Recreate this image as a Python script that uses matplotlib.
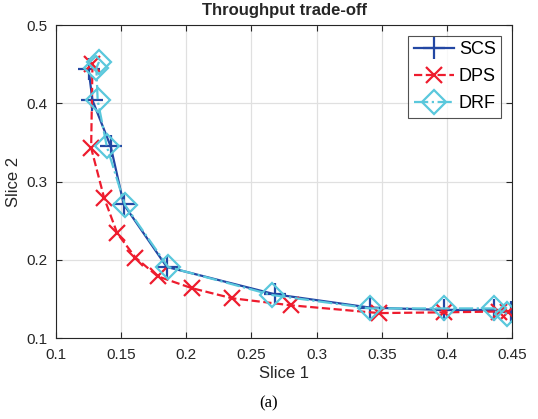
import matplotlib
matplotlib.use("Agg")
import matplotlib.pyplot as plt

scs_x = [0.125, 0.128, 0.142, 0.152, 0.185, 0.268, 0.341, 0.398, 0.436, 0.449]
scs_y = [0.444, 0.404, 0.345, 0.271, 0.191, 0.156, 0.139, 0.136, 0.136, 0.133]
dps_x = [0.128, 0.127, 0.137, 0.147, 0.161, 0.178, 0.204, 0.235, 0.280, 0.348, 0.398, 0.440, 0.447]
dps_y = [0.450, 0.343, 0.279, 0.234, 0.203, 0.179, 0.164, 0.151, 0.142, 0.132, 0.133, 0.134, 0.134]
drf_x = [0.133, 0.131, 0.132, 0.139, 0.153, 0.186, 0.266, 0.341, 0.398, 0.436, 0.446]
drf_y = [0.453, 0.445, 0.404, 0.345, 0.270, 0.191, 0.155, 0.138, 0.138, 0.138, 0.131]

xticks = [0.1, 0.15, 0.2, 0.25, 0.3, 0.35, 0.4, 0.45]
yticks = [0.1, 0.2, 0.3, 0.4, 0.5]

plt.rcParams['font.family'] = ['Liberation Sans', 'DejaVu Sans']

fig = plt.figure(figsize=(5.38, 4.19), dpi=100)
ax = fig.add_axes([0.104, 0.193, 0.848, 0.747])

ax.plot(scs_x, scs_y, '-', color='#2347a3', lw=1.6, marker='+', ms=16, mew=1.6, label='SCS')
ax.plot(dps_x, dps_y, '--', color='#ee1c2e', lw=1.6, marker='x', ms=12, mew=1.6, label='DPS')
ax.plot(drf_x, drf_y, '-.', color='#5ac8dc', lw=1.6, marker='D', ms=12, mew=1.6,
        mfc='none', label='DRF')

ax.set_xlim(0.1, 0.45)
ax.set_ylim(0.1, 0.5)
ax.set_xticks(xticks)
ax.set_xticklabels(['0.1', '0.15', '0.2', '0.25', '0.3', '0.35', '0.4', '0.45'])
ax.set_yticks(yticks)
ax.set_yticklabels(['0.1', '0.2', '0.3', '0.4', '0.5'])
ax.tick_params(direction='in', labelsize=11, colors='#262626', length=4, top=True, right=True)
ax.tick_params(axis='x', pad=7)
ax.tick_params(axis='y', pad=6)
ax.grid(True, color='#e0e0e0', lw=0.9)
ax.set_axisbelow(True)
for s in ax.spines.values():
    s.set_color('#262626')
    s.set_linewidth(0.8)

ax.set_title('Throughput trade-off', fontsize=12, fontweight='bold', color='#262626', pad=7)
ax.set_xlabel('Slice 1', fontsize=12, color='#262626', labelpad=3)
ax.set_ylabel('Slice 2', fontsize=12, color='#262626', labelpad=4)

leg = ax.legend(loc='upper right', fontsize=13, frameon=True, fancybox=False,
                edgecolor='#262626', handlelength=2.2, borderpad=0.3,
                labelspacing=0.55, handletextpad=0.3, borderaxespad=0.6)
leg.get_frame().set_linewidth(0.8)

fig.text(0.5, 0.018, '(a)', ha='center', va='bottom', fontsize=12,
         family=['Liberation Serif', 'DejaVu Serif'])

fig.savefig('out.png', dpi=100)
